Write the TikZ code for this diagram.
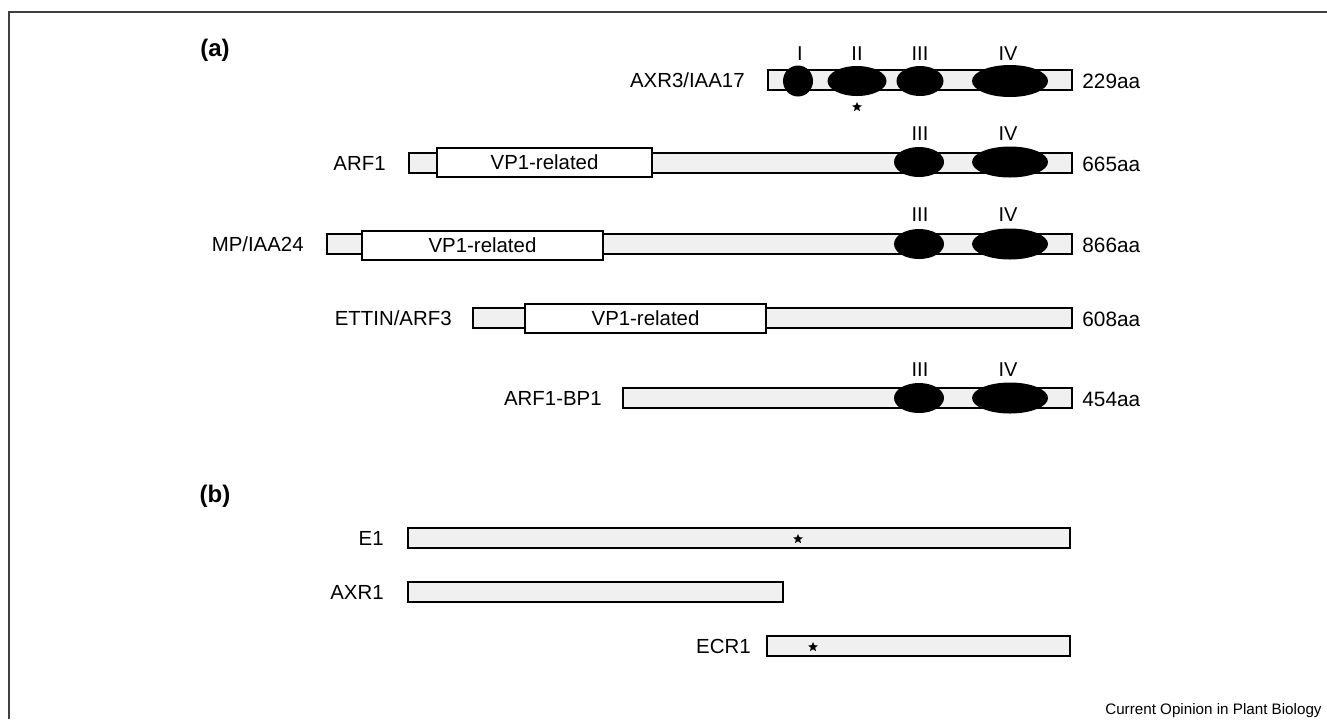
\documentclass[tikz,border=0pt]{standalone}
\usepackage{fontspec}
\setmainfont{Liberation Sans}
\usetikzlibrary{shapes.geometric}
\tikzset{
  bar/.style={draw=black, line width=1pt, fill=gray!12, inner sep=0pt, minimum height=10pt, anchor=west},
  vpbox/.style={draw=black, line width=1pt, fill=white, inner sep=0pt, minimum height=14.5pt, font=\fontsize{10.2}{12}\selectfont},
  dom/.style={ellipse, fill=black, inner sep=0pt},
  lab/.style={anchor=east, inner sep=0pt, font=\fontsize{10.2}{12}\selectfont},
  len/.style={anchor=west, inner sep=0pt, font=\fontsize{10.4}{12}\selectfont},
  num/.style={inner sep=0pt, font=\fontsize{10}{12}\selectfont},
  head/.style={inner sep=0pt, font=\fontsize{12}{14}\selectfont\bfseries},
  starmark/.style={star, star points=5, star point ratio=2.2, fill=black, inner sep=0pt, minimum size=5pt},
  frameline/.style={draw=black!75, line width=1pt}
}
\begin{document}
\begin{tikzpicture}[x=0.5pt, y=-0.5pt]
\useasboundingbox (0,0) rectangle (1327,719);
% frame
\coordinate (ftr) at (1327,12);
\coordinate (ftl) at (9,12);
\coordinate (fbl) at (9,719);
\draw[frameline] (ftr) -- (ftl) -- (fbl);

\node[head] (ha) at (215,50) {(a)};
\node[head] (hb) at (215,496) {(b)};

% AXR3/IAA17
\node[bar, minimum width=152pt] (b1) at (767,80) {};
\node[dom, minimum width=15pt, minimum height=15.5pt] (d1i) at (798,81) {};
\node[dom, minimum width=29.5pt, minimum height=15pt] (d1ii) at (857,81) {};
\node[dom, minimum width=23.5pt, minimum height=15pt] (d1iii) at (920,81) {};
\node[dom, minimum width=38pt, minimum height=16pt] (d1iv) at (1010,81) {};
\node[num] (n1i) at (800,54) {I};
\node[num] (n1ii) at (857,54) {II};
\node[num] (n1iii) at (920,54) {III};
\node[num] (n1iv) at (1008,54) {IV};
\node[starmark] (s1) at (857,107) {};
\node[lab] (l1) at (745,80) {AXR3/IAA17};
\node[len] (a1) at (1082,81) {229aa};

% ARF1
\node[bar, minimum width=331.5pt] (b2) at (408,163) {};
\node[vpbox, minimum width=107.5pt] (v2) at (544.5,162.5) {VP1-related};
\node[dom, minimum width=25pt, minimum height=15pt] (d2iii) at (919,162) {};
\node[dom, minimum width=38pt, minimum height=15.5pt] (d2iv) at (1010,162) {};
\node[num] (n2iii) at (920,134) {III};
\node[num] (n2iv) at (1008,134) {IV};
\node[lab] (l2) at (386,163) {ARF1};
\node[len] (a2) at (1082,164) {665aa};

% MP/IAA24
\node[bar, minimum width=372.5pt] (b3) at (326,244) {};
\node[vpbox, minimum width=120.5pt] (v3) at (482.5,245) {VP1-related};
\node[dom, minimum width=25pt, minimum height=15pt] (d3iii) at (919,244) {};
\node[dom, minimum width=38pt, minimum height=15.5pt] (d3iv) at (1010,244) {};
\node[num] (n3iii) at (920,215) {III};
\node[num] (n3iv) at (1008,215) {IV};
\node[lab] (l3) at (304,244) {MP/IAA24};
\node[len] (a3) at (1082,245) {866aa};

% ETTIN/ARF3
\node[bar, minimum width=299.5pt] (b4) at (472,318) {};
\node[vpbox, minimum width=120.5pt] (v4) at (645.5,318.5) {VP1-related};
\node[lab] (l4) at (452,318) {ETTIN/ARF3};
\node[len] (a4) at (1082,319) {608aa};

% ARF1-BP1
\node[bar, minimum width=224.5pt] (b5) at (622,398) {};
\node[dom, minimum width=25pt, minimum height=15pt] (d5iii) at (919,398) {};
\node[dom, minimum width=38pt, minimum height=15.5pt] (d5iv) at (1010,398) {};
\node[num] (n5iii) at (920,370) {III};
\node[num] (n5iv) at (1008,370) {IV};
\node[lab] (l5) at (602,398) {ARF1-BP1};
\node[len] (a5) at (1082,399) {454aa};

% (b)
\node[bar, minimum width=331pt] (e1) at (407,538) {};
\node[starmark] (s2) at (798,539) {};
\node[lab] (le1) at (384,538) {E1};
\node[bar, minimum width=187.5pt] (e2) at (407,592) {};
\node[lab] (le2) at (384,592) {AXR1};
\node[bar, minimum width=151.5pt] (e3) at (766,646) {};
\node[starmark] (s3) at (813,647) {};
\node[lab] (le3) at (751,646) {ECR1};

\node[anchor=base east, inner sep=0pt, font=\fontsize{7.6}{9}\selectfont] (cap) at (1322,714) {Current Opinion in Plant Biology};
\end{tikzpicture}
\end{document}
